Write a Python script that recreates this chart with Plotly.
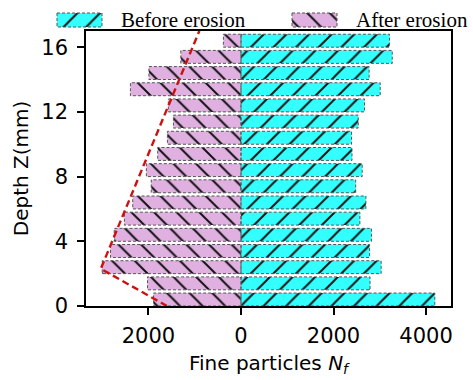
import plotly.graph_objects as go

# Depth bins (lower edge, mm) and fine-particle counts per bin
depth = list(range(17))
before_erosion = [4190, 2790, 3030, 2780, 2820, 2570, 2700, 2480, 2620,
                  2400, 2390, 2535, 2670, 3010, 2770, 3270, 3210]
after_erosion = [1890, 2020, 3000, 2820, 2740, 2520, 2340, 1940, 2045,
                 1800, 1590, 1460, 1570, 2390, 1990, 1300, 380]

# Erosion front trend (depth, N_f after erosion)
trend_depth = [0, 2.3, 17]
trend_nf = [1600, 3030, 900]

x_tickvals = [-2000, 0, 2000, 4000]
x_ticktext = ["2000", "0", "2000", "4000"]
y_tickvals = [0, 4, 8, 12, 16]

BAR_H = 0.8
CYAN = "#33ffff"
PLUM = "#e0b0e0"
HATCH = "#111111"
EDGE = "#555555"
TREND = "#cc1111"
HATCH_SIZE, HATCH_SOLID = 16, 0.12

W, H = 473, 380
ML, MR, MT, MB = 0, 22, 0, 74
PW, PH = W - ML - MR, H - MT - MB
AX_L, AX_T = 86, 31  # plot-box left edge / top edge in px


def outline(values, sign, d0, h):
    xs, ys = [], []
    for d, v in zip(d0, values):
        xs += [0, sign * v, sign * v, 0, 0, None]
        ys += [d, d, d + h, d + h, d, None]
    return xs, ys


def hatch(shape, fill):
    return dict(shape=shape, fgcolor=HATCH, bgcolor=fill, fgopacity=1,
                size=HATCH_SIZE, solidity=HATCH_SOLID)


fig = go.Figure()

fig.add_trace(go.Bar(
    orientation="h", y=depth, x=before_erosion, width=BAR_H, offset=0,
    marker=dict(color=CYAN, line_width=0, pattern=hatch("/", CYAN)),
    showlegend=False, xaxis="x", yaxis="y"))
fig.add_trace(go.Bar(
    orientation="h", y=depth, x=[-v for v in after_erosion], width=BAR_H, offset=0,
    marker=dict(color=PLUM, line_width=0, pattern=hatch("\\", PLUM)),
    showlegend=False, xaxis="x", yaxis="y"))

for vals, sign in ((before_erosion, 1), (after_erosion, -1)):
    xs, ys = outline(vals, sign, depth, BAR_H)
    fig.add_trace(go.Scatter(
        x=xs, y=ys, mode="lines", hoverinfo="skip", showlegend=False,
        line=dict(color=EDGE, width=1, dash="3px,2px"), xaxis="x", yaxis="y"))

fig.add_trace(go.Scatter(
    x=[-v for v in trend_nf], y=trend_depth, mode="lines", showlegend=False,
    line=dict(color=TREND, width=2.4, dash="7px,4px"), xaxis="x", yaxis="y"))

# Legend row drawn on its own pixel-scaled axes above the plot box
legend_names = ["Before erosion", "After erosion"]
legend_fill = [CYAN, PLUM]
legend_hatch = ["/", "\\"]
legend_x = [57, 292]
SW_W, SW_H, LEG_Y, TXT_GAP = 45, 14, 20, 17

for name, fill, shape, x0 in zip(legend_names, legend_fill, legend_hatch, legend_x):
    fig.add_trace(go.Bar(
        orientation="h", y=[LEG_Y], x=[SW_W], base=[x0], width=SW_H,
        marker=dict(color=fill, line_width=0, pattern=hatch(shape, fill)),
        showlegend=False, hoverinfo="skip", xaxis="x2", yaxis="y2"))
    fig.add_trace(go.Scatter(
        x=[x0, x0 + SW_W, x0 + SW_W, x0, x0],
        y=[LEG_Y - SW_H / 2, LEG_Y - SW_H / 2, LEG_Y + SW_H / 2, LEG_Y + SW_H / 2, LEG_Y - SW_H / 2],
        mode="lines", hoverinfo="skip", showlegend=False,
        line=dict(color=EDGE, width=1, dash="3px,2px"), xaxis="x2", yaxis="y2"))
    fig.add_annotation(
        x=x0 + SW_W + TXT_GAP, y=LEG_Y, xref="x2", yref="y2", text=name,
        showarrow=False, xanchor="left", yanchor="middle",
        font=dict(family="Liberation Serif", size=21, color="black"))

axis_common = dict(
    showline=True, mirror=True, linecolor="black", linewidth=1.5,
    ticks="outside", ticklen=7, tickwidth=1.5, tickcolor="black",
    showgrid=False, zeroline=False, automargin=False,
    tickfont=dict(family="DejaVu Sans", size=21, color="black"),
)

fig.update_layout(
    width=W, height=H,
    margin=dict(l=ML, r=MR, t=MT, b=MB),
    paper_bgcolor="white", plot_bgcolor="white",
    barmode="overlay",
    xaxis=dict(axis_common, domain=[AX_L / PW, 1], range=[-3350, 4540],
               tickvals=x_tickvals, ticktext=x_ticktext, ticklabelstandoff=3,
               title=dict(text="Fine particles <i>N</i><sub><i>f</i></sub>",
                          font=dict(family="DejaVu Sans", size=20, color="black"),
                          standoff=9)),
    yaxis=dict(axis_common, domain=[0, (PH - AX_T) / PH], range=[0, 17],
               tickvals=y_tickvals, ticklabelstandoff=5,
               title=dict(text="Depth Z(mm)",
                          font=dict(family="DejaVu Sans", size=20, color="black"),
                          standoff=7)),
    xaxis2=dict(domain=[0, 1], range=[0, PW], anchor="y2", visible=False,
                fixedrange=True),
    yaxis2=dict(domain=[(PH - AX_T) / PH, 1], range=[AX_T, 0], anchor="x2",
                visible=False, fixedrange=True),
)

fig.write_html("out.html")
